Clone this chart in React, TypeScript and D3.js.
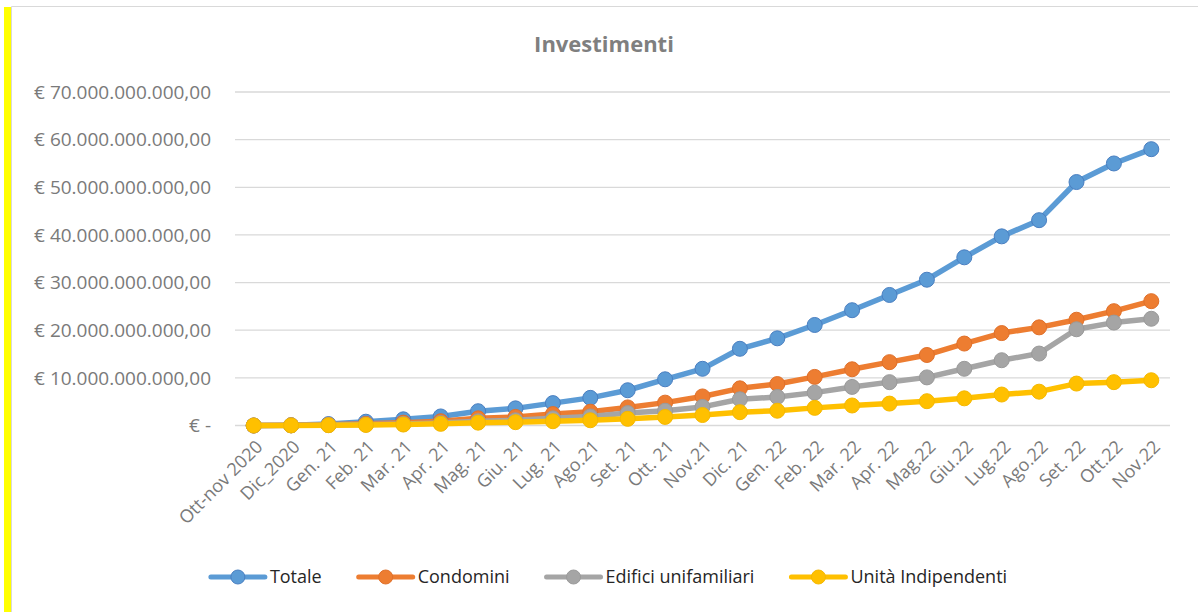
import React, { useEffect, useRef } from 'react';
import * as d3 from 'd3';

const W = 1198;
const H = 612;

// categories (x axis)
const mesi = [
	'Ott-nov 2020', 'Dic_2020', 'Gen. 21', 'Feb. 21', 'Mar. 21', 'Apr. 21', 'Mag. 21', 'Giu. 21',
	'Lug. 21', 'Ago.21', 'Set. 21', 'Ott. 21', 'Nov.21', 'Dic. 21', 'Gen. 22', 'Feb. 22',
	'Mar. 22', 'Apr. 22', 'Mag.22', 'Giu.22', 'Lug.22', 'Ago.22', 'Set. 22', 'Ott.22', 'Nov.22'
];

// values in billions of euro
const totale = [0, 0.05, 0.3, 0.8, 1.3, 1.9, 3.0, 3.6, 4.7, 5.8, 7.4, 9.7, 11.9, 16.1, 18.3, 21.1, 24.2, 27.4, 30.6, 35.3, 39.7, 43.1, 51.1, 55.0, 58.0];
const condomini = [0, 0.05, 0.15, 0.35, 0.6, 0.9, 1.5, 1.8, 2.4, 2.9, 3.8, 4.8, 6.1, 7.8, 8.7, 10.2, 11.8, 13.3, 14.8, 17.2, 19.4, 20.6, 22.2, 24.0, 26.1];
const edifici = [0, 0.03, 0.1, 0.2, 0.3, 0.5, 0.9, 1.1, 1.5, 1.9, 2.6, 3.1, 3.9, 5.5, 6.0, 6.9, 8.1, 9.1, 10.1, 11.9, 13.7, 15.1, 20.2, 21.6, 22.4];
const unita = [0, 0.02, 0.06, 0.12, 0.2, 0.35, 0.6, 0.7, 0.9, 1.1, 1.4, 1.8, 2.2, 2.8, 3.1, 3.7, 4.2, 4.6, 5.1, 5.7, 6.5, 7.1, 8.8, 9.1, 9.5];

const serie = [
	{ nome: 'Totale', valori: totale, colore: '#5B9BD5', bordo: '#4A7FC1' },
	{ nome: 'Condomini', valori: condomini, colore: '#ED7D31', bordo: '#E0702A' },
	{ nome: 'Edifici unifamiliari', valori: edifici, colore: '#A5A5A5', bordo: '#9A9A9A' },
	{ nome: 'Unità Indipendenti', valori: unita, colore: '#FFC000', bordo: '#F5B800' }
];

const yTicks = [0, 10, 20, 30, 40, 50, 60, 70];

const itLocale = d3.formatLocale({ decimal: ',', thousands: '.', grouping: [3], currency: ['€ ', ''] });
const fmt = itLocale.format(',.2f');
const euro = (v) => (v === 0 ? '€ -' : '€ ' + fmt(v * 1e9));

function draw(node) {
	const svg = d3.select(node);
	svg.selectAll('*').remove();

	const font = "'Open Sans', 'Noto Sans', sans-serif";
	const plot = { left: 235, right: 1170, top: 92, bottom: 425.5 };

	// background, yellow strip and frame
	svg.append('rect').attr('width', W).attr('height', H).attr('fill', '#fff');
	svg.append('rect').attr('x', 4).attr('y', 7).attr('width', 7).attr('height', H - 7).attr('fill', '#FFFF00');
	svg.append('path')
		.attr('d', `M11.5,${H} V6.5 H${W}`)
		.attr('fill', 'none').attr('stroke', '#D9D9D9').attr('stroke-width', 1);

	const x = d3.scaleBand().domain(mesi).range([plot.left, plot.right]).padding(0);
	const cx = (m) => x(m) + x.bandwidth() / 2;
	const y = d3.scaleLinear().domain([0, 70]).range([plot.bottom, plot.top]);

	// title
	svg.append('text')
		.attr('x', 604).attr('y', 52)
		.attr('text-anchor', 'middle')
		.attr('font-family', font).attr('font-weight', 'bold').attr('font-size', '22px')
		.attr('fill', '#7F7F7F')
		.text('Investimenti');

	// gridlines + y labels
	const grid = svg.append('g');
	yTicks.forEach((t) => {
		grid.append('line')
			.attr('x1', plot.left).attr('x2', plot.right)
			.attr('y1', y(t)).attr('y2', y(t))
			.attr('stroke', '#D9D9D9').attr('stroke-width', 1.3);
		grid.append('text')
			.attr('x', 211).attr('y', y(t))
			.attr('dy', '0.35em')
			.attr('text-anchor', 'end')
			.attr('font-family', font).attr('font-size', '19px')
			.attr('fill', '#7A7A7A')
			.text(euro(t));
	});

	// x labels, rotated
	const xl = svg.append('g');
	mesi.forEach((m) => {
		xl.append('text')
			.attr('transform', `translate(${cx(m) + 3},${441}) rotate(-45)`)
			.attr('text-anchor', 'end')
			.attr('dy', '0.55em')
			.attr('font-family', font).attr('font-size', '18px')
			.attr('fill', '#7A7A7A')
			.text(m);
	});

	// series
	const line = d3.line().x((d, i) => cx(mesi[i])).y((d) => y(d));
	serie.forEach((s) => {
		const g = svg.append('g');
		g.append('path')
			.datum(s.valori)
			.attr('d', line)
			.attr('fill', 'none')
			.attr('stroke', s.colore).attr('stroke-width', 5.5)
			.attr('stroke-linejoin', 'round').attr('stroke-linecap', 'round');
		g.selectAll('circle')
			.data(s.valori)
			.join('circle')
			.attr('cx', (d, i) => cx(mesi[i]))
			.attr('cy', (d) => y(d))
			.attr('r', 7.5)
			.attr('fill', s.colore)
			.attr('stroke', s.bordo).attr('stroke-width', 1);
	});

	// legend, laid out from measured text widths
	const legY = 577;
	const lineLen = 54, gapText = 5, gapItem = 37;
	const leg = svg.append('g');
	const items = serie.map((s) => {
		const it = leg.append('g');
		it.append('line').attr('x1', 0).attr('x2', lineLen).attr('y1', legY).attr('y2', legY)
			.attr('stroke', s.colore).attr('stroke-width', 5).attr('stroke-linecap', 'round');
		it.append('circle').attr('cx', lineLen / 2).attr('cy', legY).attr('r', 7)
			.attr('fill', s.colore).attr('stroke', s.bordo).attr('stroke-width', 1);
		const t = it.append('text')
			.attr('x', lineLen + gapText).attr('y', legY).attr('dy', '0.35em')
			.attr('font-family', font).attr('font-size', '18px')
			.attr('fill', '#262626')
			.text(s.nome);
		return { it, w: lineLen + gapText + t.node().getComputedTextLength() };
	});
	const total = d3.sum(items, (d) => d.w) + gapItem * (items.length - 1);
	let pos = 609 - total / 2;
	items.forEach((d) => {
		d.it.attr('transform', `translate(${pos},0)`);
		pos += d.w + gapItem;
	});
}

export default function App() {
	const ref = useRef(null);
	useEffect(() => {
		if (ref.current) draw(ref.current);
	}, []);
	return (
		<svg
			ref={ref}
			width={W}
			height={H}
			style={{ position: 'absolute', left: 0, top: 0, display: 'block' }}
		/>
	);
}
